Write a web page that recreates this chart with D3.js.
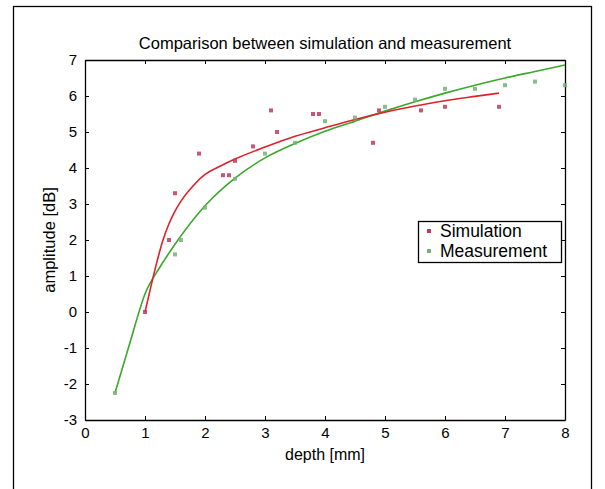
<!DOCTYPE html>
<html><head><meta charset="utf-8">
<script src="https://cdn.jsdelivr.net/npm/d3@7"></script>
<style>body{margin:0;background:#fff}svg{display:block}text{font-family:"Liberation Sans",Arial,sans-serif}</style>
</head><body><svg id="c" width="605" height="489"></svg>
<script>
const xTicks = [0,1,2,3,4,5,6,7,8];
const yTicks = [-3,-2,-1,0,1,2,3,4,5,6,7];
const simPointsX = [1.0,1.4,1.5,1.9,2.3,2.4,2.5,2.8,3.1,3.2,3.8,3.9,4.8,4.9,5.6,6.0,6.9];
const simPointsY = [0.0,2.0,3.3,4.4,3.8,3.8,4.2,4.6,5.6,5.0,5.5,5.5,4.7,5.6,5.6,5.7,5.7];
const meaPointsX = [0.5,1.5,1.6,2.0,2.5,3.0,3.5,4.0,4.5,5.0,5.5,6.0,6.5,7.0,7.5,8.0];
const meaPointsY = [-2.25,1.6,2.0,2.9,3.7,4.4,4.7,5.3,5.4,5.7,5.9,6.2,6.2,6.3,6.4,6.3];
const simCurveX = [1.0,1.1,1.2,1.3,1.4,1.5,1.6,1.8,2.0,2.25,2.5,3.0,3.5,4.0,4.5,5.0,5.5,6.0,6.5,6.9];
const simCurveY = [0.0,0.72,1.4,2.0,2.45,2.8,3.08,3.5,3.82,4.05,4.25,4.58,4.88,5.12,5.35,5.55,5.72,5.87,5.99,6.08];
const meaCurveX = [0.5,0.75,1.0,1.25,1.5,2.0,2.5,3.0,3.5,4.0,4.5,5.0,5.5,6.0,6.5,7.0,7.5,8.0];
const meaCurveY = [-2.25,-0.85,0.5,1.25,1.88,2.95,3.72,4.28,4.68,5.02,5.3,5.58,5.84,6.08,6.3,6.5,6.68,6.86];
const seriesNames = ["Simulation","Measurement"];
const seriesColors = ["#e0202a","#3aa82a"];
const pointColors = ["#c03a5a","#78b078"];

const svg = d3.select("#c");
const L=85,R=565,T=60,B=420;
const x = d3.scaleLinear().domain([0,8]).range([L,R]);
const y = d3.scaleLinear().domain([-3,7]).range([B,T]);

svg.append("rect").attr("x",13.5).attr("y",6.5).attr("width",578).attr("height",500)
  .attr("fill","none").attr("stroke","#000").attr("stroke-width",1.3);

svg.append("text").attr("x",(L+R)/2).attr("y",49).attr("text-anchor","middle")
  .attr("font-size",16.5).text("Comparison between simulation and measurement");

function styleAxis(g){g.selectAll("path").attr("stroke","#000").attr("stroke-width",1.3);
  g.selectAll("line").attr("stroke","#000");}
const fmt = d=>String(d);
const bx = svg.append("g").attr("transform",`translate(0,${B})`)
  .call(d3.axisBottom(x).tickValues(xTicks).tickSizeInner(-4).tickSizeOuter(0).tickPadding(7).tickFormat(fmt));
bx.selectAll("text").attr("font-size",15).attr("fill","#000");
styleAxis(bx);
const tx = svg.append("g").attr("transform",`translate(0,${T})`)
  .call(d3.axisTop(x).tickValues(xTicks).tickSizeInner(-4).tickSizeOuter(0).tickFormat(""));
styleAxis(tx);
const ly = svg.append("g").attr("transform",`translate(${L},0)`)
  .call(d3.axisLeft(y).tickValues(yTicks).tickSizeInner(-4).tickSizeOuter(0).tickPadding(8).tickFormat(fmt));
ly.selectAll("text").attr("font-size",15).attr("fill","#000");
styleAxis(ly);
const ry = svg.append("g").attr("transform",`translate(${R},0)`)
  .call(d3.axisRight(y).tickValues(yTicks).tickSizeInner(-4).tickSizeOuter(0).tickFormat(""));
styleAxis(ry);

svg.append("text").attr("x",(L+R)/2).attr("y",460).attr("text-anchor","middle")
  .attr("font-size",16).text("depth [mm]");
svg.append("text").attr("transform",`translate(55,${(T+B)/2}) rotate(-90)`).attr("text-anchor","middle")
  .attr("font-size",16.5).text("amplitude [dB]");

const line = d3.line().x(d=>x(d[0])).y(d=>y(d[1]));
const simCurve = simCurveX.map((v,i)=>[v,simCurveY[i]]);
const meaCurve = meaCurveX.map((v,i)=>[v,meaCurveY[i]]);
svg.append("path").datum(meaCurve).attr("d",line.curve(d3.curveMonotoneX)).attr("fill","none")
  .attr("stroke",seriesColors[1]).attr("stroke-width",1.6);
svg.append("path").datum(simCurve).attr("d",line.curve(d3.curveMonotoneX)).attr("fill","none")
  .attr("stroke",seriesColors[0]).attr("stroke-width",1.6);

function pts(xs,ys,c){
  svg.append("g").selectAll("rect").data(xs.map((v,i)=>[v,ys[i]])).join("rect")
    .attr("x",d=>x(d[0])-2).attr("y",d=>y(d[1])-2).attr("width",4).attr("height",4)
    .attr("fill",c).attr("opacity",0.85);
}
pts(meaPointsX,meaPointsY,pointColors[1]);
pts(simPointsX,simPointsY,pointColors[0]);

const lg = svg.append("g");
lg.append("rect").attr("x",418.5).attr("y",221.5).attr("width",143).attr("height",41)
  .attr("fill","#fff").attr("stroke","#000").attr("stroke-width",1.3);
seriesNames.forEach((n,i)=>{
  lg.append("rect").attr("x",427).attr("y",229+i*20).attr("width",4).attr("height",4).attr("fill",pointColors[i]);
  lg.append("text").attr("x",440).attr("y",237+i*20).attr("font-size",17.5).text(n);
});
</script></body></html>
